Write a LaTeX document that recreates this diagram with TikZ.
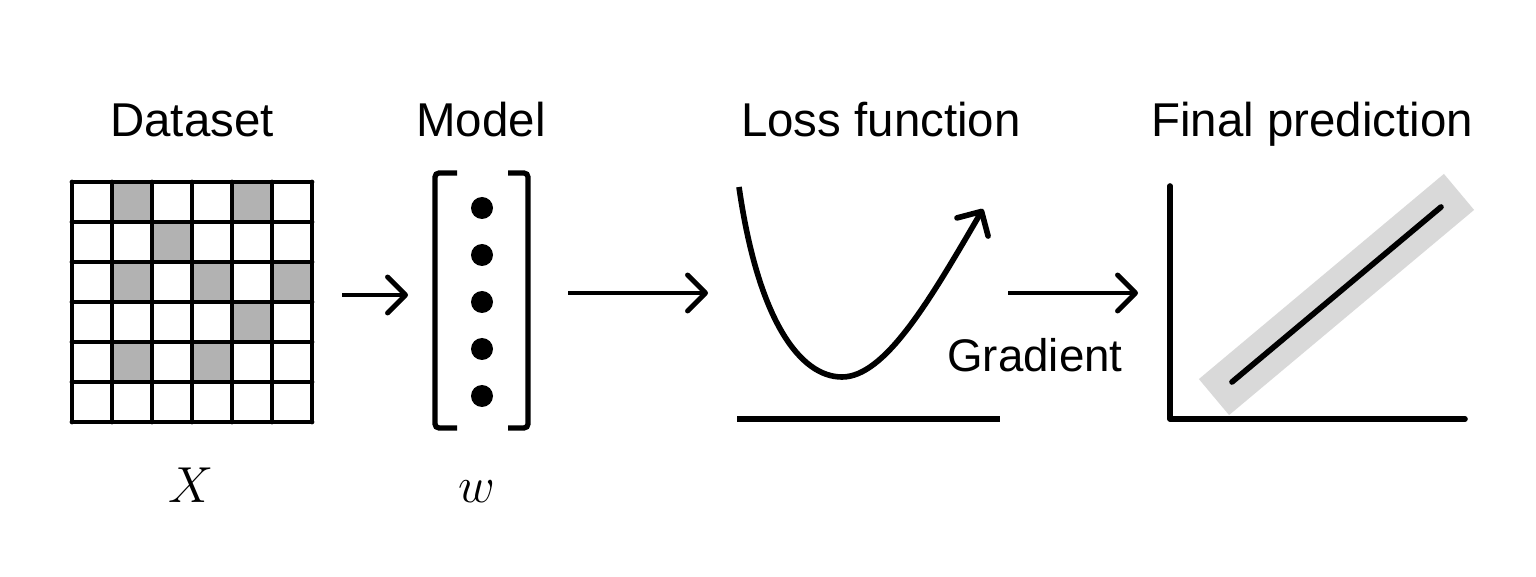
\documentclass[tikz,border=0pt]{standalone}
\usepackage{fontspec}
\setmainfont{Liberation Sans}
\usetikzlibrary{calc}
\usetikzlibrary{arrows.meta}
\usetikzlibrary{positioning}
\definecolor{cellgray}{gray}{0.70}
\definecolor{bandgray}{gray}{0.85}
\tikzstyle{title} = [font=\fontsize{13.5}{16}\selectfont, anchor=base, inner sep=0pt]
\tikzstyle{mathlbl} = [font=\fontsize{15.5}{18}\selectfont, anchor=base, inner sep=0pt]
\tikzstyle{gridline} = [draw, line width=1.4pt, line cap=round]
\tikzstyle{line} = [draw, line width=1.4pt, -{Straight Barb[length=1.8mm, width=3.6mm, round]}]
\tikzstyle{bracket} = [draw, line width=1.5pt, rounded corners=0.4mm]
\tikzstyle{dot} = [circle, fill=black, minimum size=2.2mm, inner sep=0pt]

\begin{document}
\begin{tikzpicture}[x=0.1mm, y=-0.1mm]
    \useasboundingbox (0,0) rectangle (1536,577);
    % Place titles
    \node [title] (tdata) at (192,137) {Dataset};
    \node [title] (tmodel) at (481,137) {Model};
    \node [title] (tloss) at (881,137) {Loss function};
    \node [title] (tfinal) at (1312,137) {Final prediction};
    \node [mathlbl] (xlbl) at (191,502) {$X$};
    \node [mathlbl] (wlbl) at (477,502) {$w$};
    % Draw dataset grid
    \foreach \c/\r in {1/0,4/0,2/1,1/2,3/2,5/2,4/3,1/4,3/4}
        \fill [cellgray] (72+40*\c,182+40*\r) rectangle ++(40,40);
    \foreach \i in {0,...,6} {
        \path [gridline] (72+40*\i,182) -- (72+40*\i,422);
        \path [gridline] (72,182+40*\i) -- (312,182+40*\i);
    }
    \coordinate (gridE) at (342,295);
    % Draw model vector
    \path [bracket] (457,173) -- (435,173) -- (435,428) -- (457,428);
    \path [bracket] (508,173) -- (528,173) -- (528,428) -- (508,428);
    \node [dot] (d1) at (482,208) {};
    \node [dot] (d2) at (482,255) {};
    \node [dot] (d3) at (482,302) {};
    \node [dot] (d4) at (482,349) {};
    \node [dot] (d5) at (482,396) {};
    \coordinate (modW) at (408,295);
    \coordinate (modE) at (568,293);
    % Draw loss curve
    \coordinate (lossW) at (708,293);
    \path [line, line width=1.6pt] (739,187) .. controls (758,320) and (800,377) .. (842,377)
        .. controls (885,377) and (930,300) .. (983,209);
    \draw [line width=1.6pt] (737,419) -- (1000,419);
    \coordinate (lossE) at (1008,293);
    \node [font=\fontsize{13}{16}\selectfont, anchor=base, inner sep=0pt] (grad) at (1035,372) {Gradient};
    % Draw final prediction
    \coordinate (predW) at (1138,293);
    \coordinate (fitA) at (1232,382);
    \coordinate (fitB) at (1441,207);
    \draw [bandgray, line width=4.7mm, line cap=rect] (fitA) -- (fitB);
    \draw [line width=1.6pt, line cap=round] (fitA) -- (fitB);
    \draw [line width=1.6pt, line cap=round, line join=round] (1170,186) -- (1170,419) -- (1465,419);
    % Draw edges
    \path [line] (gridE) -- (modW);
    \path [line] (modE) -- (lossW);
    \path [line] (lossE) -- (predW);
\end{tikzpicture}
\end{document}
